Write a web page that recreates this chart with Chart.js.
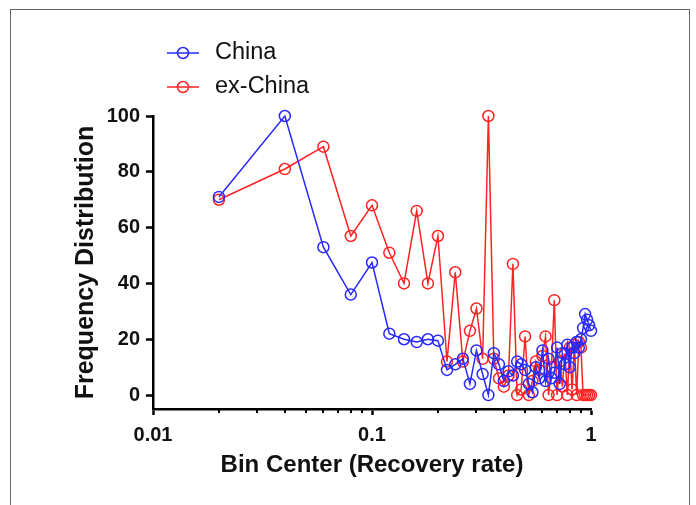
<!DOCTYPE html>
<html>
<head>
<meta charset="utf-8">
<script src="https://cdn.jsdelivr.net/npm/chart.js@4.4.1/dist/chart.umd.min.js"></script>
<style>
    html, body { margin: 0; padding: 0; background: #fff; overflow: hidden; }
    #wrap { position: relative; width: 696px; height: 505px; }
    #frame { position: absolute; left: 10px; top: 9px; width: 678px; height: 520px; border: 1px solid #666; border-bottom: none; }
    canvas { position: absolute; left: 0; top: 0; }
</style>
</head>
<body>
<div id="wrap">
    <div id="frame"></div>
    <canvas id="freqChart" width="696" height="505"></canvas>
</div>
<script>
    /* ── data ── */
    const binCenters = [
        0.02, 0.04, 0.06, 0.08, 0.10, 0.12, 0.14, 0.16, 0.18, 0.20,
        0.22, 0.24, 0.26, 0.28, 0.30, 0.32, 0.34, 0.36, 0.38, 0.40,
        0.42, 0.44, 0.46, 0.48, 0.50, 0.52, 0.54, 0.56, 0.58, 0.60,
        0.62, 0.64, 0.66, 0.68, 0.70, 0.72, 0.74, 0.76, 0.78, 0.80,
        0.82, 0.84, 0.86, 0.88, 0.90, 0.92, 0.94, 0.96, 0.98, 1.00
    ];
    const chinaFreq = [
        71, 100, 53, 36, 47.5, 22, 20, 19, 20, 19.5,
        9, 11, 13, 4, 16, 7.5, 0, 15, 11, 5,
        8.5, 7, 12, 11, 9, 4, 1, 10, 6, 16,
        5, 13, 6, 8, 17, 4, 15, 11, 18, 10,
        17, 15, 19, 17, 20, 24, 29, 27, 25, 23
    ];
    const exChinaFreq = [
        70, 81, 89, 57, 68, 51, 40, 66, 40, 57,
        12, 44, 12, 23, 31, 13, 100, 13, 6, 3,
        7, 47, 0, 2, 21, 0, 5, 12, 9, 14,
        21, 0, 10, 34, 0, 12, 3, 15, 0, 17,
        2, 18, 0, 19, 17, 0, 0, 0, 0, 0
    ];
    const seriesNames = ["China", "ex-China"];
    const xMajorTicks = [0.01, 0.1, 1];
    const xMinorTicks = [0.02, 0.03, 0.04, 0.05, 0.06, 0.07, 0.08, 0.09,
                         0.2, 0.3, 0.4, 0.5, 0.6, 0.7, 0.8, 0.9];
    const yTicks = [0, 20, 40, 60, 80, 100];

    const FONT = "'Liberation Sans', Arial, sans-serif";
    const INK = "#111";
    const BLUE = "rgb(40,40,255)";
    const RED = "rgb(255,35,35)";

    function pts(ys) { return binCenters.map((x, i) => ({ x, y: ys[i] })); }

    function series(label, ys, color) {
        return {
            label, data: pts(ys), showLine: true, tension: 0,
            borderColor: color, borderWidth: 1.5,
            pointRadius: 5.5, pointBorderWidth: 1.5,
            pointBorderColor: color, pointBackgroundColor: "rgba(0,0,0,0)",
            clip: 10
        };
    }

    /* minor ticks on the log axis + hand-drawn legend */
    const extras = {
        id: "extras",
        afterDraw(chart) {
            const c = chart.ctx, x = chart.scales.x;
            c.save();
            c.strokeStyle = "#000";
            c.lineWidth = 2;
            xMinorTicks.forEach(v => {
                const px = Math.round(x.getPixelForValue(v));
                c.beginPath(); c.moveTo(px, x.top); c.lineTo(px, x.top + 4); c.stroke();
            });

            const colors = [BLUE, RED];
            const rows = [52, 86];
            c.font = "23.5px " + FONT;
            c.textBaseline = "middle";
            seriesNames.forEach((name, i) => {
                const y = rows[i];
                c.strokeStyle = colors[i];
                c.lineWidth = 1.5;
                c.beginPath(); c.moveTo(167, y + 1); c.lineTo(199, y + 1); c.stroke();
                c.beginPath(); c.arc(183, y + 1, 5.5, 0, Math.PI * 2); c.stroke();
                c.fillStyle = INK;
                c.fillText(name, 215, y + 1);
            });
            c.restore();
        }
    };

    new Chart(document.getElementById("freqChart"), {
        type: "scatter",
        data: {
            datasets: [
                series(seriesNames[0], chinaFreq, BLUE),
                series(seriesNames[1], exChinaFreq, RED)
            ]
        },
        options: {
            responsive: false, animation: false,
            layout: { padding: { left: 71, top: 116, right: 105, bottom: 25 } },
            plugins: { legend: { display: false }, tooltip: { enabled: false } },
            scales: {
                x: {
                    type: "logarithmic", min: 0.01, max: 1,
                    afterBuildTicks: s => { s.ticks = xMajorTicks.map(v => ({ value: v, major: true })); },
                    afterFit: s => { s.height = 505 - 409 - 25; },
                    ticks: {
                        color: INK, padding: 8, maxRotation: 0, autoSkip: false,
                        font: { family: FONT, size: 20, weight: "bold" },
                        callback: v => String(v)
                    },
                    grid: { drawOnChartArea: false, tickLength: 6, tickWidth: 2.5, tickColor: "#000" },
                    border: { display: true, color: "#000", width: 2.5 },
                    title: {
                        display: true, text: "Bin Center (Recovery rate)", color: INK, padding: 0,
                        font: { family: FONT, size: 24, weight: "bold" }
                    }
                },
                y: {
                    min: -5, max: 100,
                    afterBuildTicks: s => { s.ticks = yTicks.map(v => ({ value: v })); },
                    afterFit: s => { s.width = 153 - 71; },
                    ticks: {
                        color: INK, padding: 6,
                        font: { family: FONT, size: 20, weight: "bold" }
                    },
                    grid: { drawOnChartArea: false, tickLength: 7, tickWidth: 2.5, tickColor: "#000" },
                    border: { display: true, color: "#000", width: 2.5 },
                    title: {
                        display: true, text: "Frequency Distribution", color: INK, padding: 0,
                        font: { family: FONT, size: 25, weight: "bold" }
                    }
                }
            }
        },
        plugins: [extras]
    });
</script>
</body>
</html>
